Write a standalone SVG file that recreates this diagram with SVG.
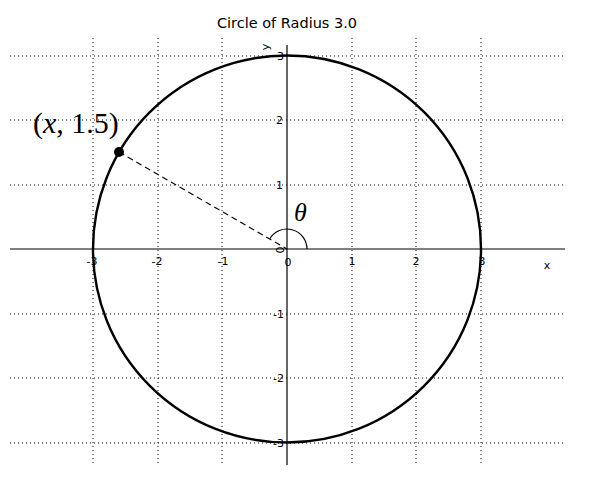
<svg xmlns="http://www.w3.org/2000/svg" width="590" height="480" viewBox="0 0 590 480">
<style>
.grid{stroke:#000;stroke-width:1;stroke-dasharray:1,3;fill:none}
.axis{stroke:#000;stroke-width:1.2;fill:none}
.tick{font-family:"DejaVu Sans",sans-serif;font-size:11px;fill:#000}
.title{font-family:"DejaVu Sans",sans-serif;font-size:14.5px;fill:#000}
.math{font-family:"Liberation Serif","DejaVu Serif",serif;fill:#000}
</style>
<rect width="590" height="480" fill="#fff"/>
<g id="grid">
<line class="grid" x1="93" y1="38" x2="93" y2="465"/>
<line class="grid" x1="158" y1="38" x2="158" y2="465"/>
<line class="grid" x1="222" y1="38" x2="222" y2="465"/>
<line class="grid" x1="352" y1="38" x2="352" y2="465"/>
<line class="grid" x1="416" y1="38" x2="416" y2="465"/>
<line class="grid" x1="481" y1="38" x2="481" y2="465"/>
<line class="grid" x1="10" y1="56" x2="565" y2="56"/>
<line class="grid" x1="10" y1="120" x2="565" y2="120"/>
<line class="grid" x1="10" y1="185" x2="565" y2="185"/>
<line class="grid" x1="10" y1="314" x2="565" y2="314"/>
<line class="grid" x1="10" y1="378" x2="565" y2="378"/>
<line class="grid" x1="10" y1="443" x2="565" y2="443"/>
</g>
<g id="axes">
<line class="axis" x1="10" y1="249" x2="565" y2="249"/>
<line class="axis" x1="287" y1="45" x2="287" y2="465"/>
</g>
<g id="xticks" class="tick" text-anchor="middle">
<text x="92" y="265">-3</text>
<text x="157" y="265">-2</text>
<text x="223" y="265">-1</text>
<text x="288" y="266">0</text>
<text x="352" y="265">1</text>
<text x="416" y="265">2</text>
<text x="482" y="265">3</text>
<text x="547" y="269">x</text>
</g>
<g id="yticks" class="tick" text-anchor="end">
<text x="284" y="60">3</text>
<text x="283" y="124">2</text>
<text x="283" y="189">1</text>
<text x="284" y="318">-1</text>
<text x="284" y="382">-2</text>
<text x="284" y="447">-3</text>
<text transform="translate(284,250) rotate(-90)" text-anchor="middle">0</text>
<text transform="translate(269,47) rotate(-90)" text-anchor="middle">y</text>
</g>
<text class="title" x="287" y="28" text-anchor="middle">Circle of Radius 3.0</text>
<g id="circle">
<ellipse cx="287" cy="249" rx="194" ry="193.5" fill="none" stroke="#000" stroke-width="2.4"/>
</g>
<g id="connectors">
<line x1="119" y1="152" x2="287" y2="249" stroke="#000" stroke-width="1.1" stroke-dasharray="6,4"/>
<path d="M307,249 A20,20 0 0 0 269.7,239" fill="none" stroke="#000" stroke-width="1.2"/>
</g>
<g id="point">
<circle cx="119" cy="152" r="5" fill="#000"/>
<text class="math" x="33" y="133" font-size="30">(<tspan font-style="italic">x</tspan>, 1.5)</text>
</g>
<g id="theta">
<text class="math" x="294" y="221" font-size="26" font-style="italic">θ</text>
</g>
</svg>
